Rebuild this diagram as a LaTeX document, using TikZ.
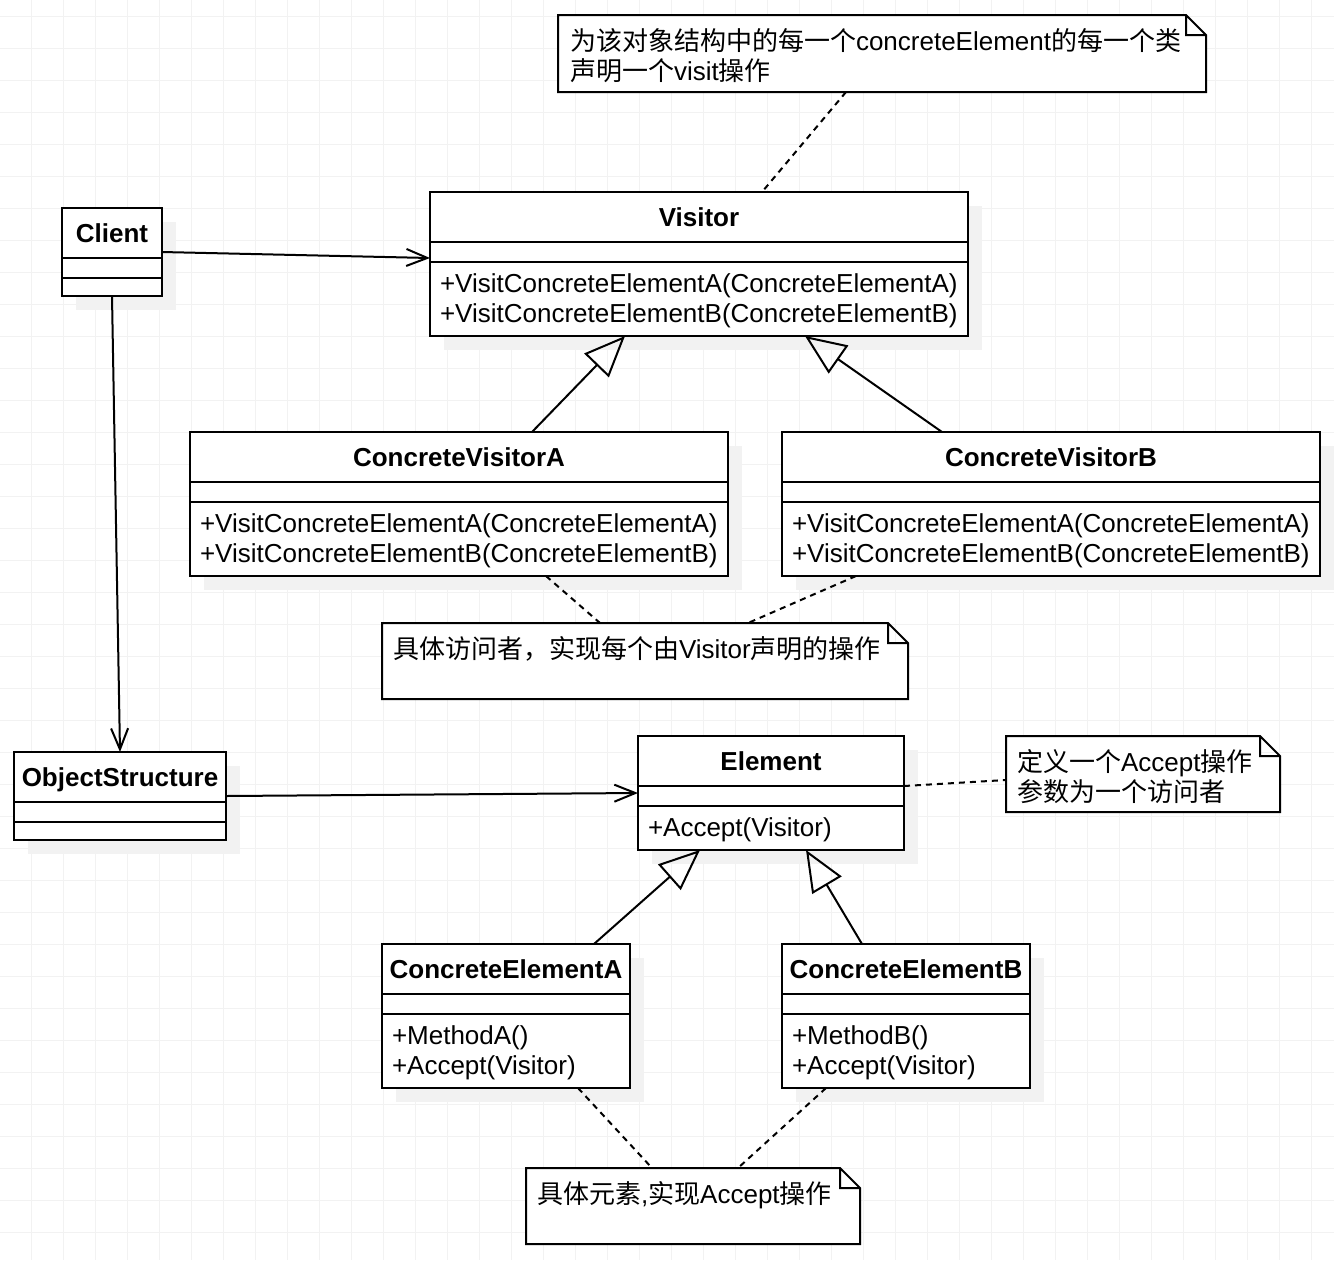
\documentclass[tikz,border=0pt]{standalone}
\usepackage{fontspec}
\setmainfont{Liberation Sans}
\newfontfamily\cjk{Noto Sans CJK SC}
\usetikzlibrary{positioning}
\usetikzlibrary{arrows.meta}
\usetikzlibrary{shadows}
\newcommand{\zh}[1]{{\cjk #1}}
\newcommand{\tp}{\rule{0pt}{12pt}}

\begin{document}
\begin{tikzpicture}[x=0.5pt,y=-0.5pt,every node/.style={outer sep=0pt},line width=1pt,
 font=\fontsize{13}{15}\selectfont,
 umlclass/.style={draw,fill=white,inner sep=0pt,drop shadow={shadow xshift=7pt,
 shadow yshift=-7pt,fill=black!5,opacity=1}},
 classname/.style={font=\fontsize{13}{15}\selectfont\bfseries,text height=9.4pt,
 text depth=0pt,inner sep=0pt},
 ops/.style={anchor=north west,align=left,inner sep=0pt},
 note/.style={inner sep=0pt},
 assoc/.style={-{Straight Barb[length=10.5pt,width=8.5pt]}},
 inherit/.style={-{Triangle[open,length=20.5pt,width=17pt]}},
 anchorline/.style={dash pattern=on 3pt off 2.5pt},
 gridline/.style={line width=0.5pt,black!5}]

  \useasboundingbox (0,0) rectangle (1334,1260);
  \fill[white] (0,0) rectangle (1334,1260);
  \foreach \gx in {31,63,...,1327} \draw[gridline] (\gx,0) -- (\gx,1260);
  \foreach \gy in {16,48,...,1248} \draw[gridline] (0,\gy) -- (1334,\gy);

  % classes
  \node[umlclass,minimum width=50pt,minimum height=44pt] (client) at (112,252) {};
  \node[umlclass,minimum width=269pt,minimum height=72pt] (visitor) at (699,264) {};
  \node[umlclass,minimum width=269pt,minimum height=72pt] (cva) at (459,504) {};
  \node[umlclass,minimum width=269pt,minimum height=72pt] (cvb) at (1051,504) {};
  \node[umlclass,minimum width=106pt,minimum height=44pt] (objstruct) at (120,796) {};
  \node[umlclass,minimum width=133pt,minimum height=57pt] (element) at (771,793) {};
  \node[umlclass,minimum width=124pt,minimum height=72pt] (cea) at (506,1016) {};
  \node[umlclass,minimum width=124pt,minimum height=72pt] (ceb) at (906,1016) {};

  \foreach \X in {client,visitor,cva,cvb,objstruct,element,cea,ceb}
  {\draw ([yshift=-25pt]\X.north west) -- ([yshift=-25pt]\X.north east);
   \draw ([yshift=-35pt]\X.north west) -- ([yshift=-35pt]\X.north east);
  }

  \node[classname] (client-name) at ([yshift=-12.5pt]client.north) {Client};
  \node[classname] (visitor-name) at ([yshift=-12.5pt]visitor.north) {Visitor};
  \node[classname] (cva-name) at ([yshift=-12.5pt]cva.north) {ConcreteVisitorA};
  \node[classname] (cvb-name) at ([yshift=-12.5pt]cvb.north) {ConcreteVisitorB};
  \node[classname] (objstruct-name) at ([yshift=-12.5pt]objstruct.north) {ObjectStructure};
  \node[classname] (element-name) at ([yshift=-12.5pt]element.north) {Element};
  \node[classname] (cea-name) at ([yshift=-12.5pt]cea.north) {ConcreteElementA};
  \node[classname] (ceb-name) at ([yshift=-12.5pt]ceb.north) {ConcreteElementB};

  \node[ops] (visitor-ops) at ([xshift=5pt,yshift=-38pt]visitor.north west)
   {\tp+VisitConcreteElementA(ConcreteElementA)\\+VisitConcreteElementB(ConcreteElementB)};
  \node[ops] (cva-ops) at ([xshift=5pt,yshift=-38pt]cva.north west)
   {\tp+VisitConcreteElementA(ConcreteElementA)\\+VisitConcreteElementB(ConcreteElementB)};
  \node[ops] (cvb-ops) at ([xshift=5pt,yshift=-38pt]cvb.north west)
   {\tp+VisitConcreteElementA(ConcreteElementA)\\+VisitConcreteElementB(ConcreteElementB)};
  \node[ops] (element-ops) at ([xshift=5pt,yshift=-38pt]element.north west)
   {\tp+Accept(Visitor)};
  \node[ops] (cea-ops) at ([xshift=5pt,yshift=-38pt]cea.north west)
   {\tp+MethodA()\\+Accept(Visitor)};
  \node[ops] (ceb-ops) at ([xshift=5pt,yshift=-38pt]ceb.north west)
   {\tp+MethodB()\\+Accept(Visitor)};

  % notes
  \node[note,minimum width=324pt,minimum height=38.5pt] (n1) at (882,53.5) {};
  \node[note,minimum width=263pt,minimum height=38pt] (n2) at (645,661) {};
  \node[note,minimum width=137pt,minimum height=38pt] (n3) at (1143,774) {};
  \node[note,minimum width=167pt,minimum height=38pt] (n4) at (693,1206) {};
  \foreach \X in {n1,n2,n3,n4}
   \draw[fill=white] (\X.north west) -- ([xshift=-10pt]\X.north east)
    -- ([yshift=-10pt]\X.north east) -- (\X.south east) -- (\X.south west) -- cycle
    ([xshift=-10pt]\X.north east) |- ([yshift=-10pt]\X.north east);

  \node[ops] (n1-text) at ([xshift=6pt,yshift=-5.5pt]n1.north west)
   {\tp\zh{为该对象结构中的每一个}concreteElement\zh{的每一个类}\\\zh{声明一个}visit\zh{操作}};
  \node[ops] (n2-text) at ([xshift=5.5pt,yshift=-5.5pt]n2.north west)
   {\tp\zh{具体访问者，实现每个由}Visitor\zh{声明的操作}};
  \node[ops] (n3-text) at ([xshift=5.5pt,yshift=-5.5pt]n3.north west)
   {\tp\zh{定义一个}Accept\zh{操作}\\\zh{参数为一个访问者}};
  \node[ops] (n4-text) at ([xshift=5.5pt,yshift=-5.5pt]n4.north west)
   {\tp\zh{具体元素},\zh{实现}Accept\zh{操作}};

  % associations
  \draw[assoc] (client.east) -- ([yshift=3pt]visitor.west);
  \draw[assoc] (client.south) -- (objstruct.north);
  \draw[assoc] (objstruct.east) -- (element.west);

  % generalisations
  \draw[inherit] ([xshift=36.5pt]cva.north) -- ([xshift=-37pt]visitor.south);
  \draw[inherit] ([xshift=-54.5pt]cvb.north) -- ([xshift=53pt]visitor.south);
  \draw[inherit] ([xshift=44pt]cea.north) -- ([xshift=-35.5pt]element.south);
  \draw[inherit] ([xshift=-22pt]ceb.north) -- ([xshift=17.5pt]element.south);

  % note anchors
  \draw[anchorline] ([xshift=-18pt]n1.south) -- ([xshift=31.5pt]visitor.north);
  \draw[anchorline] ([xshift=43.5pt]cva.south) -- ([xshift=-22.5pt]n2.north);
  \draw[anchorline] ([xshift=-97.5pt]cvb.south) -- ([xshift=51.5pt]n2.north);
  \draw[anchorline] ([yshift=3.5pt]element.east) -- ([yshift=-3pt]n3.west);
  \draw[anchorline] ([xshift=36pt]cea.south) -- ([xshift=-20.5pt]n4.north);
  \draw[anchorline] ([xshift=-40pt]ceb.south) -- ([xshift=22.5pt]n4.north);

\end{tikzpicture}
\end{document}
